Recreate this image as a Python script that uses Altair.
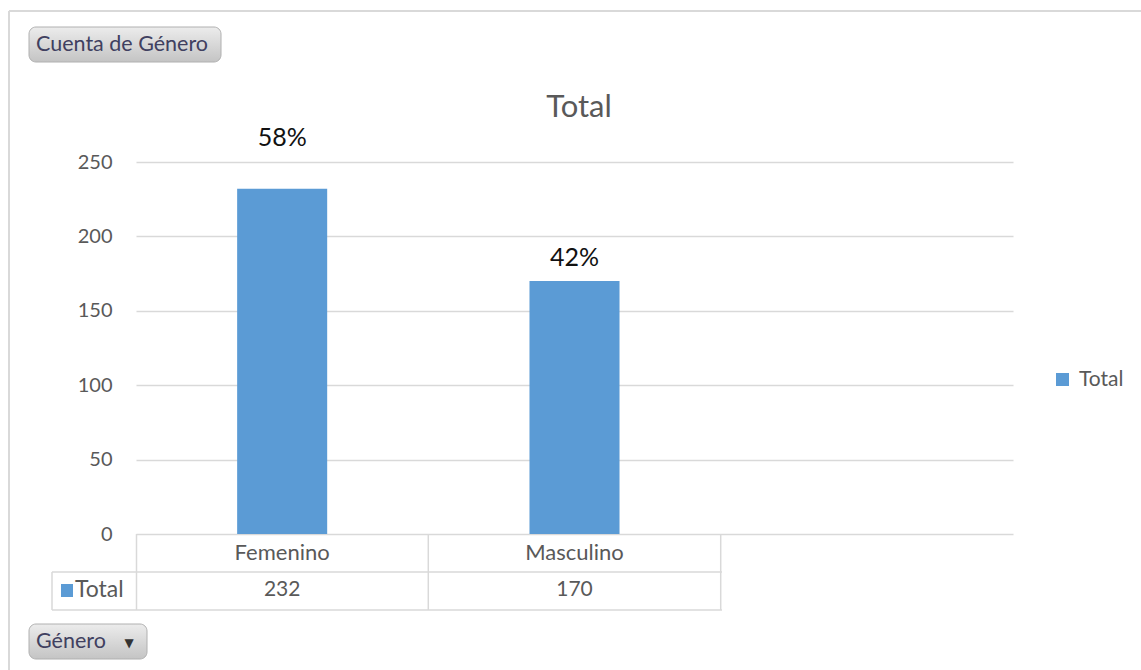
import altair as alt
import pandas as pd

# ---- data ----
categories = ["Femenino", "Masculino"]
counts = [232, 170]
series_name = "Total"
y_ticks = [0, 50, 100, 150, 200, 250]
x_slots = categories + [" "]          # pivot chart keeps an empty third slot
title_text = "Total"
field_button = "Cuenta de Género"
axis_button = "Género"

df = pd.DataFrame({"Género": categories, "Cuenta": counts, "Serie": [series_name] * len(categories)})

FONT = "Lato"
GRAY_TXT = "#595959"
GRID = "#d9d9d9"
BLUE = "#5b9bd5"
W, H = 877, 372

base = alt.Chart(df)

xs = alt.X("Género:N", scale=alt.Scale(domain=x_slots, paddingInner=0, paddingOuter=0), axis=None, sort=x_slots)
ys = alt.Y("Cuenta:Q", scale=alt.Scale(domain=[0, 250], nice=False),
           axis=alt.Axis(values=y_ticks, title=None, domain=False, ticks=False, labelPadding=24,
                         labelFontSize=20, labelColor=GRAY_TXT, labelFont=FONT,
                         grid=True, gridColor=GRID, gridWidth=1.5))

bars = base.mark_bar(width={"band": 0.308}, color=BLUE).encode(
    x=xs, y=ys,
    color=alt.Color("Serie:N", scale=alt.Scale(range=[BLUE]),
                    legend=alt.Legend(title=None, orient="none", legendX=916, legendY=207,
                                      symbolType="square", symbolSize=170, symbolStrokeWidth=0,
                                      labelFontSize=21, labelColor=GRAY_TXT, labelFont=FONT,
                                      labelOffset=6)),
)

pct_base = base.transform_joinaggregate(tot="sum(Cuenta)").transform_calculate(pct="datum.Cuenta / datum.tot")
lab_f = pct_base.transform_filter(alt.datum["Género"] == categories[0]).mark_text(
    dy=-51, fontSize=25, font=FONT, color="#111111", baseline="middle").encode(
    x=xs, y=alt.Y("Cuenta:Q"), text=alt.Text("pct:Q", format=".0%"))
lab_m = pct_base.transform_filter(alt.datum["Género"] == categories[1]).mark_text(
    dy=-23, fontSize=25, font=FONT, color="#111111", baseline="middle").encode(
    x=xs, y=alt.Y("Cuenta:Q"), text=alt.Text("pct:Q", format=".0%"))

# ---- data table under the plot ----
cat_txt = base.mark_text(fontSize=22, font=FONT, color=GRAY_TXT, baseline="middle").encode(
    x=xs, y=alt.value(391), text="Género:N")
val_txt = base.mark_text(fontSize=21, font=FONT, color=GRAY_TXT, baseline="middle").encode(
    x=xs, y=alt.value(428), text="Cuenta:Q")

one = alt.Chart(pd.DataFrame({"k": [0]}))

def hrule(x1, x2, y):
    return one.mark_rule(color=GRID, strokeWidth=1.5).encode(x=alt.value(x1), x2=alt.value(x2), y=alt.value(y))

def vrule(x, y1, y2):
    return one.mark_rule(color=GRID, strokeWidth=1.5).encode(x=alt.value(x), y=alt.value(y1), y2=alt.value(y2))

table_lines = [
    hrule(-84, 586, 410), hrule(-84, 586, 448),
    vrule(0.5, 372, 448), vrule(292.3, 372, 448), vrule(584.7, 372, 448), vrule(-84, 410, 448),
]
row_sq = one.mark_rect(color=BLUE).encode(x=alt.value(-75), x2=alt.value(-63), y=alt.value(422), y2=alt.value(435))
row_txt = one.mark_text(text=series_name, align="left", baseline="middle", fontSize=23, font=FONT,
                        color=GRAY_TXT).encode(x=alt.value(-61), y=alt.value(428))

# ---- chart frame & pivot buttons ----
frame = [
    one.mark_rule(color=GRID, strokeWidth=2).encode(x=alt.value(-127), x2=alt.value(1010), y=alt.value(-151)),
    one.mark_rule(color=GRID, strokeWidth=2).encode(x=alt.value(-127), y=alt.value(-151), y2=alt.value(520)),
]
grad = alt.LinearGradient(gradient="linear", x1=0, x2=0, y1=0, y2=1,
                          stops=[alt.GradientStop(color="#ececec", offset=0),
                                 alt.GradientStop(color="#c4c4c4", offset=1)])
btn1 = one.mark_rect(color=grad, stroke="#b0b0b0", strokeWidth=1, cornerRadius=7).encode(
    x=alt.value(-107), x2=alt.value(85), y=alt.value(-135), y2=alt.value(-100))
btn1_t = one.mark_text(text=field_button, align="left", baseline="middle", fontSize=21.5, font=FONT,
                       color="#404060").encode(x=alt.value(-100), y=alt.value(-117))
btn2 = one.mark_rect(color=grad, stroke="#b0b0b0", strokeWidth=1, cornerRadius=7).encode(
    x=alt.value(-107), x2=alt.value(11), y=alt.value(462), y2=alt.value(497))
btn2_t = one.mark_text(text=axis_button, align="left", baseline="middle", fontSize=21.5, font=FONT,
                       color="#404060").encode(x=alt.value(-100), y=alt.value(480))
btn2_a = one.mark_text(text="▼", align="center", baseline="middle", fontSize=12, font="DejaVu Sans",
                       color="#333333").encode(x=alt.value(-7), y=alt.value(481))

chart_title = one.mark_text(text=title_text, align="center", baseline="middle", fontSize=31, font=FONT,
                            color=GRAY_TXT).encode(x=alt.value(443), y=alt.value(-54))

chart = alt.layer(
    bars, lab_f, lab_m, cat_txt, val_txt, *table_lines, row_sq, row_txt,
    *frame, btn1, btn1_t, btn2, btn2_t, btn2_a, chart_title,
).properties(
    width=W, height=H,
    autosize=alt.AutoSizeParams(type="none"),
    padding={"left": 136, "top": 162, "right": 128, "bottom": 136},
).configure(background="white", view=alt.ViewConfig(stroke=None))

chart.save("out.html", embed_options={"renderer": "svg", "actions": False})
